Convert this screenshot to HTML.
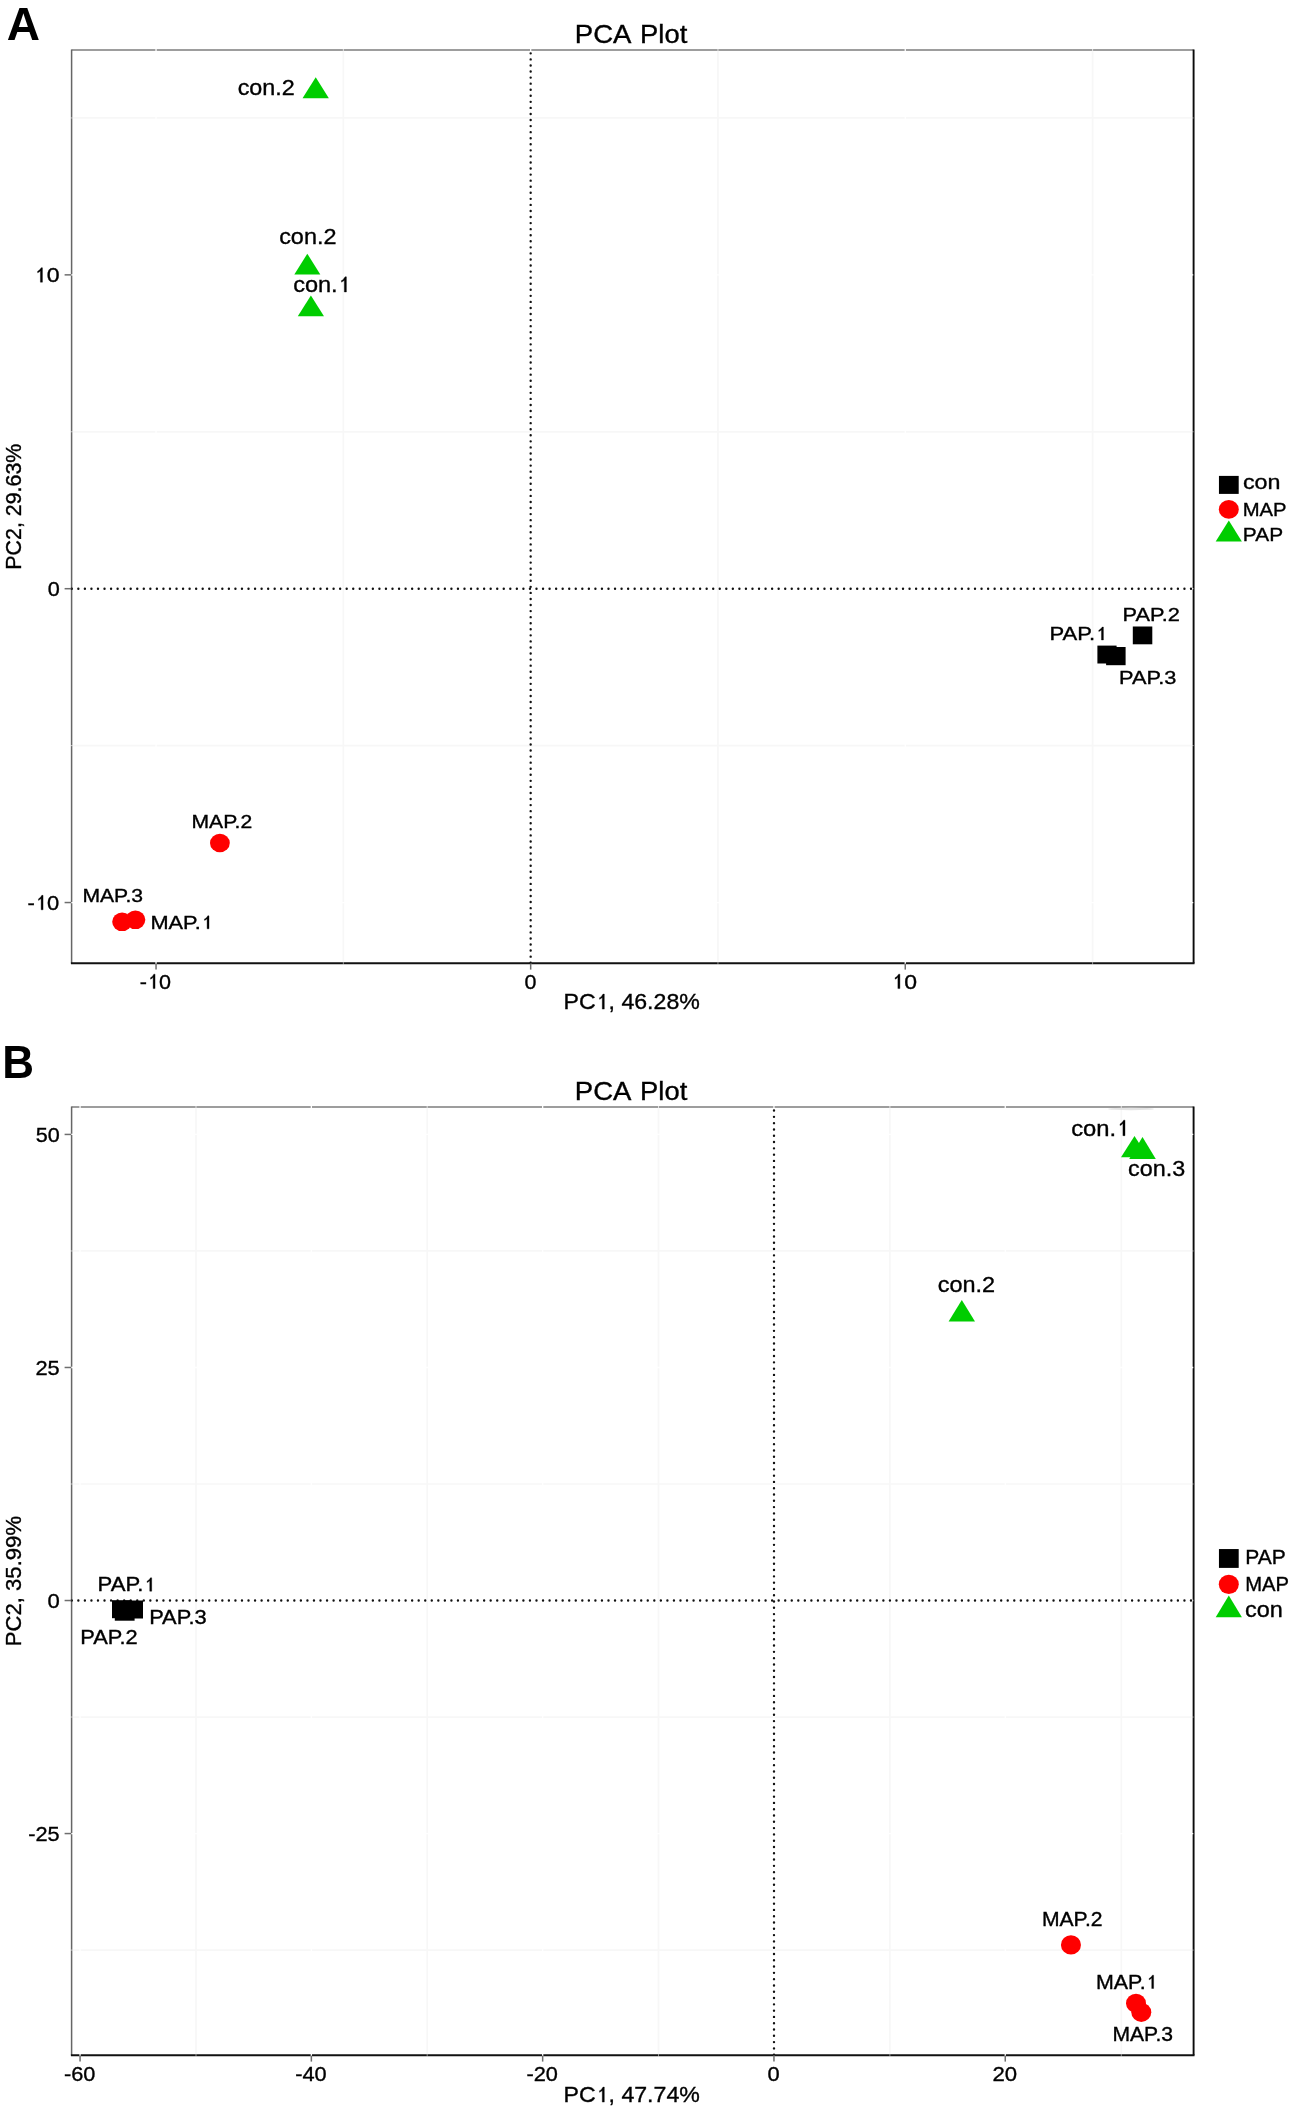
<!DOCTYPE html>
<html><head><meta charset="utf-8"><title>PCA Plot</title>
<style>
html,body{margin:0;padding:0;background:#fff;}
body{width:1293px;height:2111px;overflow:hidden;font-family:"Liberation Sans",sans-serif;}
svg{display:block;font-family:"Liberation Sans",sans-serif;will-change:transform;transform:translateZ(0);filter:blur(0.45px);}
text{fill:#000;}
.h{fill:none;stroke:none;}
</style></head><body>
<svg width="1293" height="2111" viewBox="0 0 1293 2111">
<rect width="1293" height="2111" fill="#fff"/>
<!-- Panel A -->
<line x1="343.35" y1="50.1" x2="343.35" y2="963.3" stroke="#f7f7f7" stroke-width="1.7"/>
<line x1="717.96" y1="50.1" x2="717.96" y2="963.3" stroke="#f7f7f7" stroke-width="1.7"/>
<line x1="1092.6" y1="50.1" x2="1092.6" y2="963.3" stroke="#f7f7f7" stroke-width="1.7"/>
<line x1="71.6" y1="117.94" x2="1193.6" y2="117.94" stroke="#f7f7f7" stroke-width="1.7"/>
<line x1="71.6" y1="431.78" x2="1193.6" y2="431.78" stroke="#f7f7f7" stroke-width="1.7"/>
<line x1="71.6" y1="745.62" x2="1193.6" y2="745.62" stroke="#f7f7f7" stroke-width="1.7"/>
<line x1="71.6" y1="50.1" x2="1193.6" y2="50.1" stroke="#7c7c7c" stroke-width="1.5"/>
<line x1="71.6" y1="49.4" x2="71.6" y2="963.3" stroke="#666" stroke-width="1.5"/>
<line x1="1193.6" y1="49.4" x2="1193.6" y2="963.3" stroke="#0a0a0a" stroke-width="1.9"/>
<line x1="70.89999999999999" y1="963.3" x2="1194.5" y2="963.3" stroke="#111" stroke-width="1.9"/>
<line x1="156.04" y1="48.9" x2="156.04" y2="964.5" stroke="#fff" stroke-width="1.3"/>
<line x1="530.67" y1="48.9" x2="530.67" y2="964.5" stroke="#fff" stroke-width="1.3"/>
<line x1="905.26" y1="48.9" x2="905.26" y2="964.5" stroke="#fff" stroke-width="1.3"/>
<line x1="343.35" y1="48.9" x2="343.35" y2="51.300000000000004" stroke="#fff" stroke-width="1.0" opacity="0.7"/>
<line x1="343.35" y1="962.0999999999999" x2="343.35" y2="964.5" stroke="#fff" stroke-width="1.0" opacity="0.5"/>
<line x1="717.96" y1="48.9" x2="717.96" y2="51.300000000000004" stroke="#fff" stroke-width="1.0" opacity="0.7"/>
<line x1="717.96" y1="962.0999999999999" x2="717.96" y2="964.5" stroke="#fff" stroke-width="1.0" opacity="0.5"/>
<line x1="1092.6" y1="48.9" x2="1092.6" y2="51.300000000000004" stroke="#fff" stroke-width="1.0" opacity="0.7"/>
<line x1="1092.6" y1="962.0999999999999" x2="1092.6" y2="964.5" stroke="#fff" stroke-width="1.0" opacity="0.5"/>
<line x1="70.39999999999999" y1="274.86" x2="1193.3" y2="274.86" stroke="#fff" stroke-width="1.3"/>
<line x1="70.39999999999999" y1="588.7" x2="1193.3" y2="588.7" stroke="#fff" stroke-width="1.3"/>
<line x1="70.39999999999999" y1="902.54" x2="1193.3" y2="902.54" stroke="#fff" stroke-width="1.3"/>
<line x1="70.39999999999999" y1="117.94" x2="72.8" y2="117.94" stroke="#fff" stroke-width="1.0" opacity="0.6"/>
<line x1="1192.1999999999998" y1="117.94" x2="1193.6999999999998" y2="117.94" stroke="#fff" stroke-width="1.0" opacity="0.5"/>
<line x1="70.39999999999999" y1="431.78" x2="72.8" y2="431.78" stroke="#fff" stroke-width="1.0" opacity="0.6"/>
<line x1="1192.1999999999998" y1="431.78" x2="1193.6999999999998" y2="431.78" stroke="#fff" stroke-width="1.0" opacity="0.5"/>
<line x1="70.39999999999999" y1="745.62" x2="72.8" y2="745.62" stroke="#fff" stroke-width="1.0" opacity="0.6"/>
<line x1="1192.1999999999998" y1="745.62" x2="1193.6999999999998" y2="745.62" stroke="#fff" stroke-width="1.0" opacity="0.5"/>
<line x1="530.67" y1="53.35" x2="530.67" y2="963.8" stroke="#111" stroke-width="2.4" stroke-linecap="round" stroke-dasharray="0 6.0623"/>
<line x1="71.8" y1="588.7" x2="1192.6" y2="588.7" stroke="#111" stroke-width="2.4" stroke-linecap="round" stroke-dasharray="0 6.545"/>
<line x1="156.04" y1="963.5999999999999" x2="156.04" y2="969.5999999999999" stroke="#6e6e6e" stroke-width="1.5"/>
<line x1="530.67" y1="963.5999999999999" x2="530.67" y2="969.5999999999999" stroke="#6e6e6e" stroke-width="1.5"/>
<line x1="905.26" y1="963.5999999999999" x2="905.26" y2="969.5999999999999" stroke="#6e6e6e" stroke-width="1.5"/>
<line x1="64.6" y1="274.86" x2="71.3" y2="274.86" stroke="#6e6e6e" stroke-width="1.5"/>
<line x1="64.6" y1="588.7" x2="71.3" y2="588.7" stroke="#6e6e6e" stroke-width="1.5"/>
<line x1="64.6" y1="902.54" x2="71.3" y2="902.54" stroke="#6e6e6e" stroke-width="1.5"/>
<text transform="translate(6.85,39.90) scale(0.9930,1)" font-size="46.4" font-weight="bold" stroke="#000" stroke-width="0">A</text>
<text transform="translate(574.80,43.30) scale(1.0680,1)" font-size="25.8" font-weight="normal" stroke="#000" stroke-width="0.35">PCA</text>
<text transform="translate(640.11,43.30) scale(1.0618,1)" font-size="25.8" font-weight="normal" stroke="#000" stroke-width="0.35">Plot</text>
<text transform="translate(33.82,282.20) scale(1.1018,1)" font-size="21" font-weight="normal" stroke="#000" stroke-width="0.35"><tspan class="h">1</tspan>0</text>
<path transform="translate(33.82,282.20) scale(1.1018,1) translate(0.000,0) scale(0.010254,-0.009813)" d="M763 0H583V1147Q540 1095 465 1040T335 960V1110Q440 1175 520 1270T647 1472H763Z" fill="#000" stroke="#000" stroke-width="0.35" vector-effect="non-scaling-stroke"/>
<text transform="translate(47.63,596.00) scale(1.0326,1)" font-size="21" font-weight="normal" stroke="#000" stroke-width="0.35">0</text>
<text transform="translate(27.56,909.80) scale(1.0458,1)" font-size="21" font-weight="normal" stroke="#000" stroke-width="0.35">-<tspan class="h">1</tspan>0</text>
<path transform="translate(27.56,909.80) scale(1.0458,1) translate(6.994,0) scale(0.010254,-0.009813)" d="M763 0H583V1147Q540 1095 465 1040T335 960V1110Q440 1175 520 1270T647 1472H763Z" fill="#000" stroke="#000" stroke-width="0.35" vector-effect="non-scaling-stroke"/>
<text transform="translate(139.83,988.60) scale(1.0265,1)" font-size="21" font-weight="normal" stroke="#000" stroke-width="0.35">-<tspan class="h">1</tspan>0</text>
<path transform="translate(139.83,988.60) scale(1.0265,1) translate(6.994,0) scale(0.010254,-0.009813)" d="M763 0H583V1147Q540 1095 465 1040T335 960V1110Q440 1175 520 1270T647 1472H763Z" fill="#000" stroke="#000" stroke-width="0.35" vector-effect="non-scaling-stroke"/>
<text transform="translate(524.54,988.70) scale(1.0226,1)" font-size="21" font-weight="normal" stroke="#000" stroke-width="0.35">0</text>
<text transform="translate(891.33,988.60) scale(1.0966,1)" font-size="21" font-weight="normal" stroke="#000" stroke-width="0.35"><tspan class="h">1</tspan>0</text>
<path transform="translate(891.33,988.60) scale(1.0966,1) translate(0.000,0) scale(0.010254,-0.009813)" d="M763 0H583V1147Q540 1095 465 1040T335 960V1110Q440 1175 520 1270T647 1472H763Z" fill="#000" stroke="#000" stroke-width="0.35" vector-effect="non-scaling-stroke"/>
<text transform="translate(563.55,1009.10) scale(1.0613,1)" font-size="21.8" font-weight="normal" stroke="#000" stroke-width="0.35">PC<tspan class="h">1</tspan>, 46.28%</text>
<path transform="translate(563.55,1009.10) scale(1.0613,1) translate(30.285,0) scale(0.010645,-0.010187)" d="M763 0H583V1147Q540 1095 465 1040T335 960V1110Q440 1175 520 1270T647 1472H763Z" fill="#000" stroke="#000" stroke-width="0.35" vector-effect="non-scaling-stroke"/>
<text transform="translate(21.15,569.71) scale(1.0566,1) rotate(-90)" font-size="21.39" font-weight="normal" stroke="#000" stroke-width="0.35">PC2, 29.63%</text>
<polygon points="315.7,77.3 302.55,98.2 328.84999999999997,98.2" fill="#00cd00"/>
<polygon points="307.3,253.7 294.3,274.5 320.3,274.5" fill="#00cd00"/>
<polygon points="310.9,295.4 297.79999999999995,316.3 324.0,316.3" fill="#00cd00"/>
<text transform="translate(237.65,95.45) scale(1.0618,1)" font-size="22.0" font-weight="normal" stroke="#000" stroke-width="0.35">con.2</text>
<text transform="translate(279.14,244.40) scale(1.0657,1)" font-size="22.0" font-weight="normal" stroke="#000" stroke-width="0.35">con.2</text>
<text transform="translate(293.14,292.00) scale(1.0699,1)" font-size="22.0" font-weight="normal" stroke="#000" stroke-width="0.35">con.<tspan class="h">1</tspan></text>
<path transform="translate(293.14,292.00) scale(1.0699,1) translate(41.583,0) scale(0.010742,-0.010280)" d="M763 0H583V1147Q540 1095 465 1040T335 960V1110Q440 1175 520 1270T647 1472H763Z" fill="#000" stroke="#000" stroke-width="0.35" vector-effect="non-scaling-stroke"/>
<ellipse cx="219.9" cy="843" rx="9.9" ry="9.3" fill="#ff0000"/>
<ellipse cx="122.1" cy="921.8" rx="9.9" ry="9.3" fill="#ff0000"/>
<ellipse cx="135.4" cy="919.8" rx="9.9" ry="9.3" fill="#ff0000"/>
<text transform="translate(191.51,828.30) scale(1.1236,1)" font-size="18.8" font-weight="normal" stroke="#000" stroke-width="0.35">MAP.2</text>
<text transform="translate(82.41,901.80) scale(1.1254,1)" font-size="18.8" font-weight="normal" stroke="#000" stroke-width="0.35">MAP.3</text>
<text transform="translate(150.46,928.80) scale(1.1582,1)" font-size="18.8" font-weight="normal" stroke="#000" stroke-width="0.35">MAP.<tspan class="h">1</tspan></text>
<path transform="translate(150.46,928.80) scale(1.1582,1) translate(43.541,0) scale(0.009180,-0.008785)" d="M763 0H583V1147Q540 1095 465 1040T335 960V1110Q440 1175 520 1270T647 1472H763Z" fill="#000" stroke="#000" stroke-width="0.35" vector-effect="non-scaling-stroke"/>
<rect x="1097.4" y="645.6" width="19.20" height="17.90" fill="#000"/>
<rect x="1106.1" y="647.0" width="19.50" height="18.20" fill="#000"/>
<rect x="1132.8" y="626.5" width="19.50" height="17.80" fill="#000"/>
<text transform="translate(1049.44,640.00) scale(1.1724,1)" font-size="18.8" font-weight="normal" stroke="#000" stroke-width="0.35">PAP.<tspan class="h">1</tspan></text>
<path transform="translate(1049.44,640.00) scale(1.1724,1) translate(39.025,0) scale(0.009180,-0.008785)" d="M763 0H583V1147Q540 1095 465 1040T335 960V1110Q440 1175 520 1270T647 1472H763Z" fill="#000" stroke="#000" stroke-width="0.35" vector-effect="non-scaling-stroke"/>
<text transform="translate(1122.56,621.20) scale(1.1571,1)" font-size="18.8" font-weight="normal" stroke="#000" stroke-width="0.35">PAP.2</text>
<text transform="translate(1119.06,683.80) scale(1.1569,1)" font-size="18.8" font-weight="normal" stroke="#000" stroke-width="0.35">PAP.3</text>
<rect x="1218.95" y="475.9" width="19.75" height="18.00" fill="#000"/>
<ellipse cx="1228.8" cy="509.4" rx="10" ry="9.35" fill="#ff0000"/>
<polygon points="1228.8,520.5 1215.7,541.6 1241.8999999999999,541.6" fill="#00cd00"/>
<text transform="translate(1242.95,489.40) scale(1.1209,1)" font-size="20.8" font-weight="normal" stroke="#000" stroke-width="0.35">con</text>
<text transform="translate(1242.68,515.50) scale(1.0769,1)" font-size="18.8" font-weight="normal" stroke="#000" stroke-width="0.35">MAP</text>
<text transform="translate(1242.83,540.90) scale(1.1113,1)" font-size="18.8" font-weight="normal" stroke="#000" stroke-width="0.35">PAP</text>
<!-- Panel B -->
<line x1="196.0" y1="1107.1" x2="196.0" y2="2055.3" stroke="#f7f7f7" stroke-width="1.7"/>
<line x1="427.2" y1="1107.1" x2="427.2" y2="2055.3" stroke="#f7f7f7" stroke-width="1.7"/>
<line x1="658.5" y1="1107.1" x2="658.5" y2="2055.3" stroke="#f7f7f7" stroke-width="1.7"/>
<line x1="889.9" y1="1107.1" x2="889.9" y2="2055.3" stroke="#f7f7f7" stroke-width="1.7"/>
<line x1="1121.3" y1="1107.1" x2="1121.3" y2="2055.3" stroke="#f7f7f7" stroke-width="1.7"/>
<line x1="71.6" y1="1250.96" x2="1193.6" y2="1250.96" stroke="#f7f7f7" stroke-width="1.7"/>
<line x1="71.6" y1="1484.0" x2="1193.6" y2="1484.0" stroke="#f7f7f7" stroke-width="1.7"/>
<line x1="71.6" y1="1717.04" x2="1193.6" y2="1717.04" stroke="#f7f7f7" stroke-width="1.7"/>
<line x1="71.6" y1="1950.08" x2="1193.6" y2="1950.08" stroke="#f7f7f7" stroke-width="1.7"/>
<line x1="71.6" y1="1107.1" x2="1193.6" y2="1107.1" stroke="#7c7c7c" stroke-width="1.5"/>
<line x1="71.6" y1="1106.3999999999999" x2="71.6" y2="2055.3" stroke="#666" stroke-width="1.5"/>
<line x1="1193.6" y1="1106.3999999999999" x2="1193.6" y2="2055.3" stroke="#0a0a0a" stroke-width="1.9"/>
<line x1="70.89999999999999" y1="2055.3" x2="1194.5" y2="2055.3" stroke="#111" stroke-width="1.9"/>
<line x1="80.06" y1="1105.8999999999999" x2="80.06" y2="2056.5" stroke="#fff" stroke-width="1.3"/>
<line x1="311.36" y1="1105.8999999999999" x2="311.36" y2="2056.5" stroke="#fff" stroke-width="1.3"/>
<line x1="542.66" y1="1105.8999999999999" x2="542.66" y2="2056.5" stroke="#fff" stroke-width="1.3"/>
<line x1="773.96" y1="1105.8999999999999" x2="773.96" y2="2056.5" stroke="#fff" stroke-width="1.3"/>
<line x1="1005.26" y1="1105.8999999999999" x2="1005.26" y2="2056.5" stroke="#fff" stroke-width="1.3"/>
<line x1="196.0" y1="1105.8999999999999" x2="196.0" y2="1108.3" stroke="#fff" stroke-width="1.0" opacity="0.7"/>
<line x1="196.0" y1="2054.1000000000004" x2="196.0" y2="2056.5" stroke="#fff" stroke-width="1.0" opacity="0.5"/>
<line x1="427.2" y1="1105.8999999999999" x2="427.2" y2="1108.3" stroke="#fff" stroke-width="1.0" opacity="0.7"/>
<line x1="427.2" y1="2054.1000000000004" x2="427.2" y2="2056.5" stroke="#fff" stroke-width="1.0" opacity="0.5"/>
<line x1="658.5" y1="1105.8999999999999" x2="658.5" y2="1108.3" stroke="#fff" stroke-width="1.0" opacity="0.7"/>
<line x1="658.5" y1="2054.1000000000004" x2="658.5" y2="2056.5" stroke="#fff" stroke-width="1.0" opacity="0.5"/>
<line x1="889.9" y1="1105.8999999999999" x2="889.9" y2="1108.3" stroke="#fff" stroke-width="1.0" opacity="0.7"/>
<line x1="889.9" y1="2054.1000000000004" x2="889.9" y2="2056.5" stroke="#fff" stroke-width="1.0" opacity="0.5"/>
<line x1="1121.3" y1="1105.8999999999999" x2="1121.3" y2="1108.3" stroke="#fff" stroke-width="1.0" opacity="0.7"/>
<line x1="1121.3" y1="2054.1000000000004" x2="1121.3" y2="2056.5" stroke="#fff" stroke-width="1.0" opacity="0.5"/>
<line x1="70.39999999999999" y1="1134.44" x2="1193.3" y2="1134.44" stroke="#fff" stroke-width="1.3"/>
<line x1="70.39999999999999" y1="1367.48" x2="1193.3" y2="1367.48" stroke="#fff" stroke-width="1.3"/>
<line x1="70.39999999999999" y1="1600.52" x2="1193.3" y2="1600.52" stroke="#fff" stroke-width="1.3"/>
<line x1="70.39999999999999" y1="1833.56" x2="1193.3" y2="1833.56" stroke="#fff" stroke-width="1.3"/>
<line x1="70.39999999999999" y1="1250.96" x2="72.8" y2="1250.96" stroke="#fff" stroke-width="1.0" opacity="0.6"/>
<line x1="1192.1999999999998" y1="1250.96" x2="1193.6999999999998" y2="1250.96" stroke="#fff" stroke-width="1.0" opacity="0.5"/>
<line x1="70.39999999999999" y1="1484.0" x2="72.8" y2="1484.0" stroke="#fff" stroke-width="1.0" opacity="0.6"/>
<line x1="1192.1999999999998" y1="1484.0" x2="1193.6999999999998" y2="1484.0" stroke="#fff" stroke-width="1.0" opacity="0.5"/>
<line x1="70.39999999999999" y1="1717.04" x2="72.8" y2="1717.04" stroke="#fff" stroke-width="1.0" opacity="0.6"/>
<line x1="1192.1999999999998" y1="1717.04" x2="1193.6999999999998" y2="1717.04" stroke="#fff" stroke-width="1.0" opacity="0.5"/>
<line x1="70.39999999999999" y1="1950.08" x2="72.8" y2="1950.08" stroke="#fff" stroke-width="1.0" opacity="0.6"/>
<line x1="1192.1999999999998" y1="1950.08" x2="1193.6999999999998" y2="1950.08" stroke="#fff" stroke-width="1.0" opacity="0.5"/>
<line x1="774.0" y1="1110.57" x2="774.0" y2="2055.8" stroke="#111" stroke-width="2.4" stroke-linecap="round" stroke-dasharray="0 6.2941"/>
<line x1="71.8" y1="1600.52" x2="1192.6" y2="1600.52" stroke="#111" stroke-width="2.4" stroke-linecap="round" stroke-dasharray="0 6.545"/>
<line x1="80.06" y1="2055.6000000000004" x2="80.06" y2="2061.6000000000004" stroke="#6e6e6e" stroke-width="1.5"/>
<line x1="311.36" y1="2055.6000000000004" x2="311.36" y2="2061.6000000000004" stroke="#6e6e6e" stroke-width="1.5"/>
<line x1="542.66" y1="2055.6000000000004" x2="542.66" y2="2061.6000000000004" stroke="#6e6e6e" stroke-width="1.5"/>
<line x1="773.96" y1="2055.6000000000004" x2="773.96" y2="2061.6000000000004" stroke="#6e6e6e" stroke-width="1.5"/>
<line x1="1005.26" y1="2055.6000000000004" x2="1005.26" y2="2061.6000000000004" stroke="#6e6e6e" stroke-width="1.5"/>
<line x1="64.6" y1="1134.44" x2="71.3" y2="1134.44" stroke="#6e6e6e" stroke-width="1.5"/>
<line x1="64.6" y1="1367.48" x2="71.3" y2="1367.48" stroke="#6e6e6e" stroke-width="1.5"/>
<line x1="64.6" y1="1600.52" x2="71.3" y2="1600.52" stroke="#6e6e6e" stroke-width="1.5"/>
<line x1="64.6" y1="1833.56" x2="71.3" y2="1833.56" stroke="#6e6e6e" stroke-width="1.5"/>
<text transform="translate(2.21,1077.90) scale(0.9479,1)" font-size="46.4" font-weight="bold" stroke="#000" stroke-width="0">B</text>
<text transform="translate(574.80,1100.30) scale(1.0517,1)" font-size="26.2" font-weight="normal" stroke="#000" stroke-width="0.35">PCA</text>
<text transform="translate(640.11,1100.30) scale(1.0444,1)" font-size="26.2" font-weight="normal" stroke="#000" stroke-width="0.35">Plot</text>
<text transform="translate(35.63,1141.80) scale(1.0298,1)" font-size="21" font-weight="normal" stroke="#000" stroke-width="0.35">50</text>
<text transform="translate(35.41,1374.80) scale(1.0399,1)" font-size="21" font-weight="normal" stroke="#000" stroke-width="0.35">25</text>
<text transform="translate(47.62,1608.00) scale(1.0526,1)" font-size="21" font-weight="normal" stroke="#000" stroke-width="0.35">0</text>
<text transform="translate(28.22,1840.90) scale(1.0370,1)" font-size="21" font-weight="normal" stroke="#000" stroke-width="0.35">-25</text>
<text transform="translate(63.92,2081.40) scale(1.0370,1)" font-size="21" font-weight="normal" stroke="#000" stroke-width="0.35">-60</text>
<text transform="translate(295.22,2081.40) scale(1.0370,1)" font-size="21" font-weight="normal" stroke="#000" stroke-width="0.35">-40</text>
<text transform="translate(526.52,2081.40) scale(1.0370,1)" font-size="21" font-weight="normal" stroke="#000" stroke-width="0.35">-20</text>
<text transform="translate(767.62,2081.40) scale(1.0426,1)" font-size="21" font-weight="normal" stroke="#000" stroke-width="0.35">0</text>
<text transform="translate(992.39,2081.40) scale(1.0539,1)" font-size="21" font-weight="normal" stroke="#000" stroke-width="0.35">20</text>
<text transform="translate(563.55,2102.10) scale(1.0613,1)" font-size="21.8" font-weight="normal" stroke="#000" stroke-width="0.35">PC<tspan class="h">1</tspan>, 47.74%</text>
<path transform="translate(563.55,2102.10) scale(1.0613,1) translate(30.285,0) scale(0.010645,-0.010187)" d="M763 0H583V1147Q540 1095 465 1040T335 960V1110Q440 1175 520 1270T647 1472H763Z" fill="#000" stroke="#000" stroke-width="0.35" vector-effect="non-scaling-stroke"/>
<text transform="translate(21.15,1646.27) scale(1.0211,1) rotate(-90)" font-size="22.134" font-weight="normal" stroke="#000" stroke-width="0.35">PC2, 35.99%</text>
<ellipse cx="1131" cy="1108.9" rx="23" ry="1.3" fill="#d8d8d8" opacity="0.7"/>
<polygon points="1134.5,1136.1 1121.0,1157.2 1148.0,1157.2" fill="#00cd00"/>
<polygon points="1142.5,1137.1 1129.2,1158.9 1155.8,1158.9" fill="#00cd00"/>
<polygon points="961.8,1300.0 948.5999999999999,1321.5 975.0,1321.5" fill="#00cd00"/>
<text transform="translate(1071.13,1135.70) scale(1.0535,1)" font-size="22.6" font-weight="normal" stroke="#000" stroke-width="0.35">con.<tspan class="h">1</tspan></text>
<path transform="translate(1071.13,1135.70) scale(1.0535,1) translate(42.718,0) scale(0.011035,-0.010561)" d="M763 0H583V1147Q540 1095 465 1040T335 960V1110Q440 1175 520 1270T647 1472H763Z" fill="#000" stroke="#000" stroke-width="0.35" vector-effect="non-scaling-stroke"/>
<text transform="translate(1128.05,1175.80) scale(1.0333,1)" font-size="22.6" font-weight="normal" stroke="#000" stroke-width="0.35">con.3</text>
<text transform="translate(937.74,1291.60) scale(1.0393,1)" font-size="22.6" font-weight="normal" stroke="#000" stroke-width="0.35">con.2</text>
<rect x="112.0" y="1600.2" width="19.50" height="18.00" fill="#000"/>
<rect x="114.8" y="1602.7" width="19.80" height="18.00" fill="#000"/>
<rect x="123.5" y="1600.5" width="19.50" height="18.00" fill="#000"/>
<text transform="translate(97.53,1591.20) scale(1.1405,1)" font-size="19.4" font-weight="normal" stroke="#000" stroke-width="0.35">PAP.<tspan class="h">1</tspan></text>
<path transform="translate(97.53,1591.20) scale(1.1405,1) translate(40.270,0) scale(0.009473,-0.009065)" d="M763 0H583V1147Q540 1095 465 1040T335 960V1110Q440 1175 520 1270T647 1472H763Z" fill="#000" stroke="#000" stroke-width="0.35" vector-effect="non-scaling-stroke"/>
<text transform="translate(149.15,1624.40) scale(1.1273,1)" font-size="19.4" font-weight="normal" stroke="#000" stroke-width="0.35">PAP.3</text>
<text transform="translate(80.25,1644.00) scale(1.1254,1)" font-size="19.4" font-weight="normal" stroke="#000" stroke-width="0.35">PAP.2</text>
<ellipse cx="1070.95" cy="1944.9" rx="10" ry="9.6" fill="#ff0000"/>
<ellipse cx="1136.0" cy="2003.3" rx="10" ry="9.6" fill="#ff0000"/>
<ellipse cx="1141.3" cy="2012.3" rx="10" ry="9.6" fill="#ff0000"/>
<text transform="translate(1041.91,1925.70) scale(1.0907,1)" font-size="19.4" font-weight="normal" stroke="#000" stroke-width="0.35">MAP.2</text>
<text transform="translate(1095.99,1988.50) scale(1.1046,1)" font-size="19.4" font-weight="normal" stroke="#000" stroke-width="0.35">MAP.<tspan class="h">1</tspan></text>
<path transform="translate(1095.99,1988.50) scale(1.1046,1) translate(44.931,0) scale(0.009473,-0.009065)" d="M763 0H583V1147Q540 1095 465 1040T335 960V1110Q440 1175 520 1270T647 1472H763Z" fill="#000" stroke="#000" stroke-width="0.35" vector-effect="non-scaling-stroke"/>
<text transform="translate(1112.41,2040.80) scale(1.0887,1)" font-size="19.4" font-weight="normal" stroke="#000" stroke-width="0.35">MAP.3</text>
<rect x="1218.95" y="1549.05" width="19.75" height="18.85" fill="#000"/>
<ellipse cx="1228.8" cy="1584.35" rx="10" ry="9.6" fill="#ff0000"/>
<polygon points="1228.8,1595.5 1215.7,1617.25 1241.8999999999999,1617.25" fill="#00cd00"/>
<text transform="translate(1245.17,1564.20) scale(1.0731,1)" font-size="19.6" font-weight="normal" stroke="#000" stroke-width="0.35">PAP</text>
<text transform="translate(1245.23,1591.05) scale(1.0317,1)" font-size="19.6" font-weight="normal" stroke="#000" stroke-width="0.35">MAP</text>
<text transform="translate(1244.94,1616.90) scale(1.1061,1)" font-size="21.2" font-weight="normal" stroke="#000" stroke-width="0.35">con</text>
</svg></body></html>
